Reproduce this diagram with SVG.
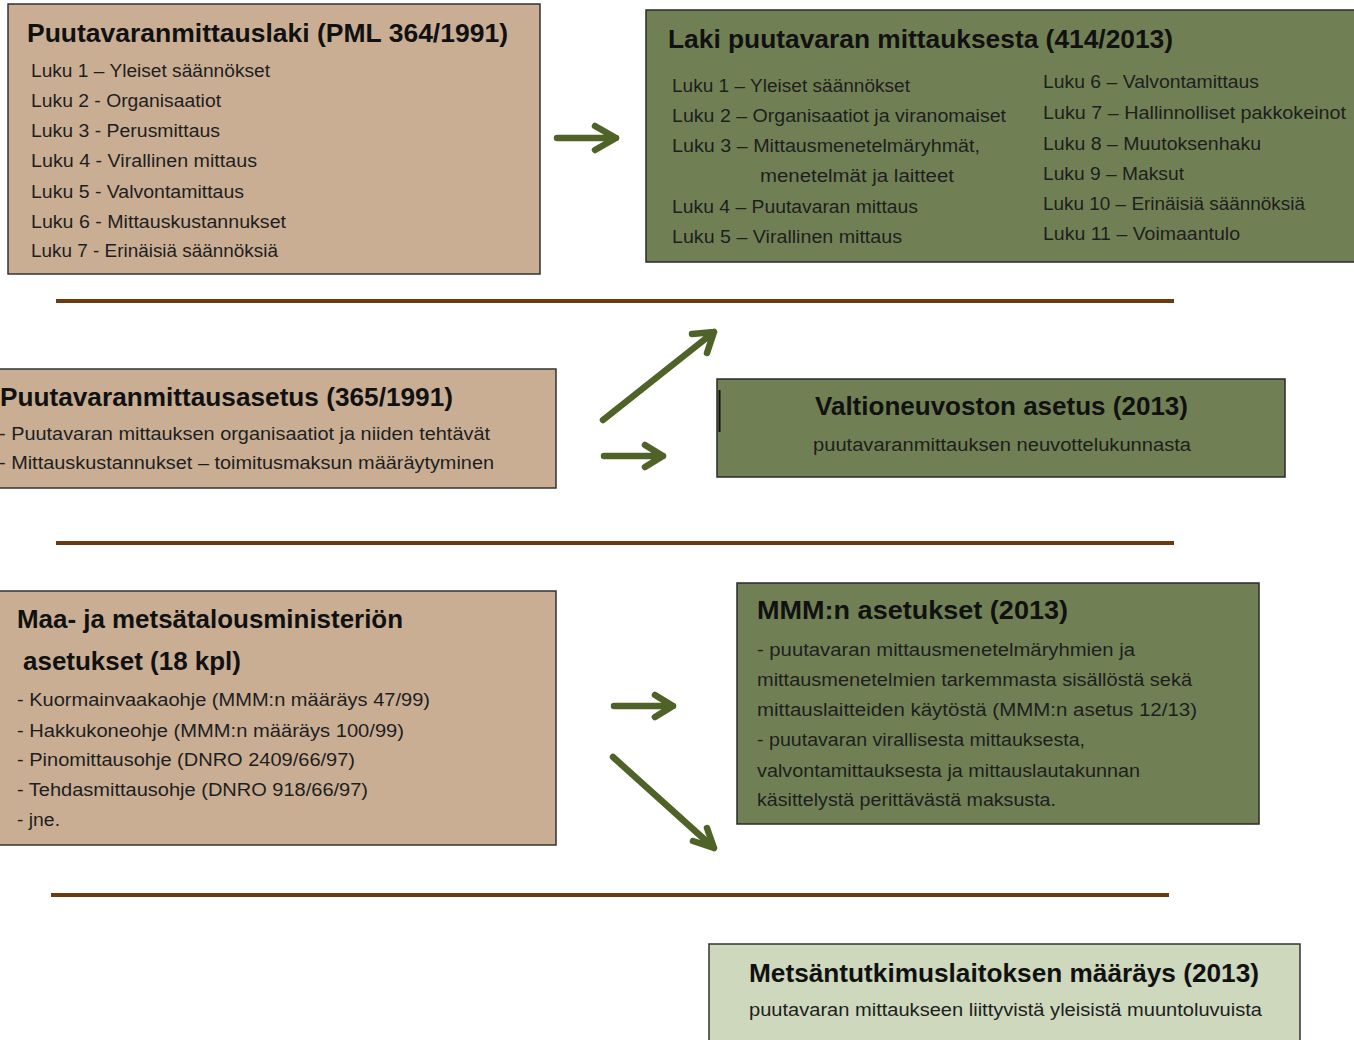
<svg xmlns="http://www.w3.org/2000/svg" width="1354" height="1040" viewBox="0 0 1354 1040">
<defs>
<style>
.tan{fill:#c9ae94;stroke:#333;stroke-width:1.5}
.olive{fill:#718054;stroke:#2a2a2a;stroke-width:1.5}
.light{fill:#cdd8bd;stroke:#333;stroke-width:1.5}
.t{font-family:"Liberation Sans",Arial,sans-serif;font-weight:bold;font-size:25px;fill:#111}
.b{font-family:"Liberation Sans",Arial,sans-serif;font-size:17.5px;fill:#1e1e1e}
.sep{stroke:#6b3a0e;stroke-width:4}
.arr{fill:none;stroke:#4f6228;stroke-width:6.5;stroke-linecap:round;stroke-linejoin:round}
</style>
</defs>
<rect width="1354" height="1040" fill="#fff"/>
<g id="separators">
<line class="sep" x1="56" y1="301" x2="1174" y2="301"/>
<line class="sep" x1="56" y1="543" x2="1174" y2="543"/>
<line class="sep" x1="51" y1="895" x2="1169" y2="895"/>
</g>
<g id="pml1991">
<rect class="tan" x="8" y="4" width="532" height="270"/>
<text class="t" x="27" y="42" textLength="481" lengthAdjust="spacingAndGlyphs">Puutavaranmittauslaki (PML 364/1991)</text>
<text class="b" x="31" y="77" textLength="239" lengthAdjust="spacingAndGlyphs">Luku 1 – Yleiset säännökset</text>
<text class="b" x="31" y="107" textLength="190" lengthAdjust="spacingAndGlyphs">Luku 2 - Organisaatiot</text>
<text class="b" x="31" y="137" textLength="189" lengthAdjust="spacingAndGlyphs">Luku 3 - Perusmittaus</text>
<text class="b" x="31" y="167" textLength="226" lengthAdjust="spacingAndGlyphs">Luku 4 - Virallinen mittaus</text>
<text class="b" x="31" y="198" textLength="213" lengthAdjust="spacingAndGlyphs">Luku 5 - Valvontamittaus</text>
<text class="b" x="31" y="228" textLength="255" lengthAdjust="spacingAndGlyphs">Luku 6 - Mittauskustannukset</text>
<text class="b" x="31" y="257" textLength="247" lengthAdjust="spacingAndGlyphs">Luku 7 - Erinäisiä säännöksiä</text>
</g>
<g id="laki2013">
<rect class="olive" x="646" y="10" width="712" height="252"/>
<text class="t" x="668" y="48" textLength="505" lengthAdjust="spacingAndGlyphs">Laki puutavaran mittauksesta  (414/2013)</text>
<text class="b" x="672" y="92" textLength="238" lengthAdjust="spacingAndGlyphs">Luku 1 – Yleiset säännökset</text>
<text class="b" x="672" y="122" textLength="334" lengthAdjust="spacingAndGlyphs">Luku 2 – Organisaatiot ja viranomaiset</text>
<text class="b" x="672" y="152" textLength="308" lengthAdjust="spacingAndGlyphs">Luku 3 – Mittausmenetelmäryhmät,</text>
<text class="b" x="760" y="182" textLength="194" lengthAdjust="spacingAndGlyphs">menetelmät ja laitteet</text>
<text class="b" x="672" y="213" textLength="246" lengthAdjust="spacingAndGlyphs">Luku 4 – Puutavaran mittaus</text>
<text class="b" x="672" y="243" textLength="230" lengthAdjust="spacingAndGlyphs">Luku 5 – Virallinen mittaus</text>
<text class="b" x="1043" y="88" textLength="216" lengthAdjust="spacingAndGlyphs">Luku 6 – Valvontamittaus</text>
<text class="b" x="1043" y="119" textLength="303" lengthAdjust="spacingAndGlyphs">Luku 7 – Hallinnolliset pakkokeinot</text>
<text class="b" x="1043" y="150" textLength="218" lengthAdjust="spacingAndGlyphs">Luku 8 – Muutoksenhaku</text>
<text class="b" x="1043" y="180" textLength="141" lengthAdjust="spacingAndGlyphs">Luku 9 – Maksut</text>
<text class="b" x="1043" y="210" textLength="262" lengthAdjust="spacingAndGlyphs">Luku 10 – Erinäisiä säännöksiä</text>
<text class="b" x="1043" y="240" textLength="197" lengthAdjust="spacingAndGlyphs">Luku 11 – Voimaantulo</text>
</g>
<g id="asetus1991">
<rect class="tan" x="-4" y="369" width="560" height="119"/>
<text class="t" x="0" y="406" textLength="453" lengthAdjust="spacingAndGlyphs">Puutavaranmittausasetus (365/1991)</text>
<text class="b" x="-1" y="440" textLength="491" lengthAdjust="spacingAndGlyphs">- Puutavaran mittauksen organisaatiot  ja niiden tehtävät</text>
<text class="b" x="-1" y="469" textLength="495" lengthAdjust="spacingAndGlyphs">- Mittauskustannukset  – toimitusmaksun  määräytyminen</text>
</g>
<g id="vna2013">
<rect class="olive" x="717" y="379" width="568" height="98"/>
<line x1="719.5" y1="390" x2="719.5" y2="432" stroke="#111" stroke-width="2"/>
<text class="t" x="815" y="415" textLength="373" lengthAdjust="spacingAndGlyphs">Valtioneuvoston asetus (2013)</text>
<text class="b" x="813" y="451" textLength="378" lengthAdjust="spacingAndGlyphs">puutavaranmittauksen  neuvottelukunnasta</text>
</g>
<g id="mmm-old">
<rect class="tan" x="-4" y="591" width="560" height="254"/>
<text class="t" x="17" y="628" textLength="386" lengthAdjust="spacingAndGlyphs">Maa- ja metsätalousministeriön</text>
<text class="t" x="23" y="670" textLength="218" lengthAdjust="spacingAndGlyphs">asetukset (18 kpl)</text>
<text class="b" x="17" y="706" textLength="413" lengthAdjust="spacingAndGlyphs">- Kuormainvaakaohje  (MMM:n määräys 47/99)</text>
<text class="b" x="17" y="737" textLength="387" lengthAdjust="spacingAndGlyphs">- Hakkukoneohje (MMM:n määräys 100/99)</text>
<text class="b" x="17" y="766" textLength="338" lengthAdjust="spacingAndGlyphs">- Pinomittausohje  (DNRO 2409/66/97)</text>
<text class="b" x="17" y="796" textLength="351" lengthAdjust="spacingAndGlyphs">- Tehdasmittausohje  (DNRO 918/66/97)</text>
<text class="b" x="17" y="826" textLength="43" lengthAdjust="spacingAndGlyphs">- jne.</text>
</g>
<g id="mmm2013">
<rect class="olive" x="737" y="583" width="522" height="241"/>
<text class="t" x="757" y="619" textLength="311" lengthAdjust="spacingAndGlyphs">MMM:n asetukset (2013)</text>
<text class="b" x="757" y="656" textLength="378" lengthAdjust="spacingAndGlyphs">- puutavaran mittausmenetelmäryhmien  ja</text>
<text class="b" x="757" y="686" textLength="435" lengthAdjust="spacingAndGlyphs">mittausmenetelmien  tarkemmasta  sisällöstä sekä</text>
<text class="b" x="757" y="716" textLength="440" lengthAdjust="spacingAndGlyphs">mittauslaitteiden  käytöstä (MMM:n asetus 12/13)</text>
<text class="b" x="757" y="746" textLength="328" lengthAdjust="spacingAndGlyphs">- puutavaran virallisesta mittauksesta,</text>
<text class="b" x="757" y="777" textLength="383" lengthAdjust="spacingAndGlyphs">valvontamittauksesta  ja mittauslautakunnan</text>
<text class="b" x="757" y="806" textLength="299" lengthAdjust="spacingAndGlyphs">käsittelystä perittävästä  maksusta.</text>
</g>
<g id="metla2013">
<rect class="light" x="709" y="944" width="591" height="100"/>
<text class="t" x="749" y="982" textLength="510" lengthAdjust="spacingAndGlyphs">Metsäntutkimuslaitoksen  määräys (2013)</text>
<text class="b" x="749" y="1016" textLength="513" lengthAdjust="spacingAndGlyphs">puutavaran mittaukseen  liittyvistä yleisistä muuntoluvuista</text>
</g>
<g id="connectors">
<path class="arr" d="M557,138 H616 M595,126 L616,138 L595,150"/>
<path class="arr" d="M603,420 L714,332 M692,334 L714,332 L707,353"/>
<path class="arr" d="M604,456 H663 M645,445 L663,456 L645,467"/>
<path class="arr" d="M614,706 H673 M655,695 L673,706 L655,717"/>
<path class="arr" d="M613,757 L714,848 M693,841 L714,848 L707,828"/>
</g>
</svg>
